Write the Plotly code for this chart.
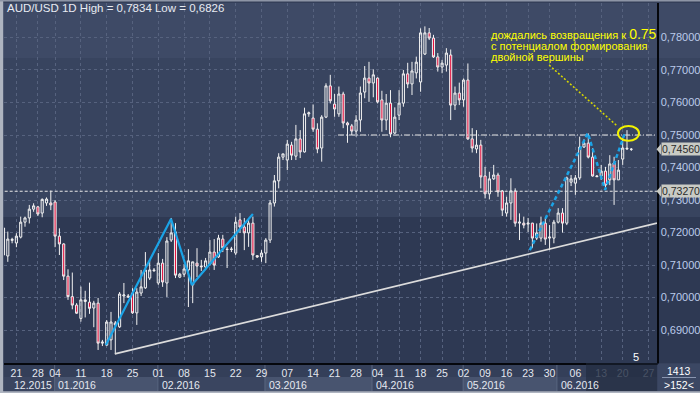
import plotly.graph_objects as go

# ---------------- data ----------------
O = [
0.7131, 0.7128, 0.7176, 0.7168, 0.7186, 0.7232, 0.7245, 0.7272, 0.7279, 0.7260,
0.7291, 0.7291, 0.7294, 0.7189, 0.7165, 0.7066, 0.7003, 0.6977, 0.6936, 0.6988,
0.6986, 0.6968, 0.6983, 0.6860, 0.6854, 0.6870, 0.6922, 0.6910, 0.7005, 0.7005,
0.7014, 0.6953, 0.7014, 0.7030, 0.7060, 0.7085, 0.7045, 0.7106, 0.7045, 0.7177,
0.7202, 0.7063, 0.7072, 0.7085, 0.7039, 0.7106, 0.7097, 0.7094, 0.7103, 0.7140,
0.7125, 0.7180, 0.7149, 0.7148, 0.7137, 0.7239, 0.7217, 0.7199, 0.7229, 0.7129,
0.7125, 0.7137, 0.7177, 0.7291, 0.7359, 0.7432, 0.7423, 0.7469, 0.7435, 0.7488,
0.7448, 0.7565, 0.7552, 0.7518, 0.7460, 0.7555, 0.7651, 0.7595, 0.7565, 0.7626,
0.7537, 0.7528, 0.7512, 0.7546, 0.7632, 0.7675, 0.7660, 0.7675, 0.7608, 0.7546,
0.7598, 0.7506, 0.7561, 0.7598, 0.7688, 0.7657, 0.7691, 0.7663, 0.7749, 0.7814,
0.7798, 0.7740, 0.7709, 0.7715, 0.7746, 0.7592, 0.7629, 0.7608, 0.7669, 0.7488,
0.7457, 0.7469, 0.7374, 0.7319, 0.7365, 0.7377, 0.7328, 0.7260, 0.7291, 0.7328,
0.7229, 0.7229, 0.7226, 0.7229, 0.7183, 0.7183, 0.7229, 0.7183, 0.7183, 0.7232,
0.7260, 0.7229, 0.7355, 0.7352, 0.7368, 0.7463, 0.7475, 0.7432, 0.7374, 0.7374,
0.7389, 0.7362, 0.7414, 0.7362, 0.7426, 0.7457, 0.7456]

H = [
0.7233, 0.7203, 0.7184, 0.7198, 0.7249, 0.7249, 0.7285, 0.7290, 0.7282, 0.7305,
0.7308, 0.7329, 0.7300, 0.7213, 0.7167, 0.7087, 0.7077, 0.6983, 0.7034, 0.7021,
0.7046, 0.6990, 0.6999, 0.6870, 0.6931, 0.6956, 0.6928, 0.7017, 0.7045, 0.7011,
0.7029, 0.7029, 0.7085, 0.7140, 0.7113, 0.7091, 0.7137, 0.7119, 0.7186, 0.7245,
0.7229, 0.7076, 0.7103, 0.7149, 0.7110, 0.7152, 0.7116, 0.7122, 0.7177, 0.7180,
0.7193, 0.7193, 0.7156, 0.7156, 0.7249, 0.7260, 0.7245, 0.7239, 0.7249, 0.7131,
0.7146, 0.7183, 0.7300, 0.7377, 0.7444, 0.7442, 0.7485, 0.7479, 0.7531, 0.7515,
0.7584, 0.7572, 0.7594, 0.7536, 0.7561, 0.7659, 0.7685, 0.7626, 0.7649, 0.7633,
0.7541, 0.7534, 0.7561, 0.7649, 0.7712, 0.7725, 0.7702, 0.7677, 0.7636, 0.7626,
0.7638, 0.7585, 0.7638, 0.7700, 0.7722, 0.7725, 0.7741, 0.7828, 0.7834, 0.7829,
0.7808, 0.7752, 0.7731, 0.7767, 0.7763, 0.7649, 0.7661, 0.7674, 0.7720, 0.7521,
0.7515, 0.7485, 0.7402, 0.7387, 0.7408, 0.7384, 0.7331, 0.7310, 0.7367, 0.7336,
0.7259, 0.7249, 0.7245, 0.7230, 0.7228, 0.7249, 0.7244, 0.7223, 0.7239, 0.7275,
0.7275, 0.7372, 0.7377, 0.7377, 0.7495, 0.7487, 0.7505, 0.7459, 0.7377, 0.7408,
0.7402, 0.7438, 0.7433, 0.7423, 0.7490, 0.7515, 0.7460]

L = [
0.7121, 0.7110, 0.7167, 0.7155, 0.7182, 0.7218, 0.7228, 0.7264, 0.7251, 0.7247,
0.7282, 0.7269, 0.7155, 0.7131, 0.7054, 0.6993, 0.6964, 0.6950, 0.6926, 0.6939,
0.6950, 0.6909, 0.6839, 0.6851, 0.6851, 0.6839, 0.6826, 0.6907, 0.6983, 0.6999,
0.6950, 0.6916, 0.7005, 0.7027, 0.7054, 0.7079, 0.7039, 0.7033, 0.7002, 0.7171,
0.7060, 0.7060, 0.7063, 0.6971, 0.6983, 0.7063, 0.7082, 0.7085, 0.7100, 0.7085,
0.7122, 0.7140, 0.7091, 0.7140, 0.7131, 0.7199, 0.7146, 0.7156, 0.7116, 0.7122,
0.7110, 0.7106, 0.7168, 0.7280, 0.7336, 0.7423, 0.7392, 0.7423, 0.7423, 0.7429,
0.7446, 0.7556, 0.7510, 0.7444, 0.7418, 0.7552, 0.7597, 0.7556, 0.7556, 0.7521,
0.7476, 0.7500, 0.7495, 0.7510, 0.7613, 0.7602, 0.7616, 0.7597, 0.7510, 0.7515,
0.7493, 0.7503, 0.7546, 0.7587, 0.7644, 0.7623, 0.7674, 0.7633, 0.7746, 0.7792,
0.7737, 0.7695, 0.7690, 0.7695, 0.7546, 0.7577, 0.7592, 0.7587, 0.7485, 0.7446,
0.7444, 0.7336, 0.7305, 0.7302, 0.7362, 0.7310, 0.7251, 0.7249, 0.7239, 0.7218,
0.7177, 0.7213, 0.7202, 0.7152, 0.7177, 0.7172, 0.7162, 0.7146, 0.7167, 0.7228,
0.7200, 0.7223, 0.7343, 0.7316, 0.7362, 0.7460, 0.7428, 0.7372, 0.7371, 0.7362,
0.7336, 0.7346, 0.7285, 0.7362, 0.7408, 0.7454, 0.7451]

C = [
0.7214, 0.7180, 0.7179, 0.7189, 0.7232, 0.7245, 0.7272, 0.7282, 0.7257, 0.7302,
0.7303, 0.7285, 0.7189, 0.7165, 0.7066, 0.7003, 0.6977, 0.6952, 0.6993, 0.6993,
0.6967, 0.6983, 0.6860, 0.6863, 0.6925, 0.6925, 0.6916, 0.7011, 0.7008, 0.7002,
0.6953, 0.7017, 0.7033, 0.7085, 0.7085, 0.7083, 0.7106, 0.7048, 0.7174, 0.7199,
0.7069, 0.7072, 0.7088, 0.7113, 0.7110, 0.7097, 0.7095, 0.7113, 0.7140, 0.7100,
0.7183, 0.7153, 0.7148, 0.7149, 0.7232, 0.7217, 0.7199, 0.7229, 0.7131, 0.7125,
0.7137, 0.7177, 0.7291, 0.7359, 0.7432, 0.7442, 0.7472, 0.7438, 0.7488, 0.7448,
0.7565, 0.7568, 0.7518, 0.7457, 0.7555, 0.7651, 0.7605, 0.7580, 0.7626, 0.7537,
0.7531, 0.7512, 0.7546, 0.7629, 0.7675, 0.7660, 0.7685, 0.7602, 0.7546, 0.7598,
0.7503, 0.7555, 0.7598, 0.7688, 0.7657, 0.7697, 0.7724, 0.7814, 0.7814, 0.7798,
0.7740, 0.7709, 0.7721, 0.7752, 0.7592, 0.7629, 0.7608, 0.7669, 0.7488, 0.7460,
0.7469, 0.7371, 0.7319, 0.7365, 0.7377, 0.7325, 0.7269, 0.7291, 0.7328, 0.7229,
0.7232, 0.7223, 0.7229, 0.7183, 0.7199, 0.7229, 0.7180, 0.7186, 0.7232, 0.7260,
0.7229, 0.7368, 0.7365, 0.7368, 0.7463, 0.7475, 0.7432, 0.7374, 0.7372, 0.7389,
0.7346, 0.7411, 0.7362, 0.7392, 0.7460, 0.7459, 0.7456]

BARS = list(range(len(O)))

# x-axis ticks (bar index of each weekly label) and labels
TICK_POS = [3, 8, 12, 18, 24, 30, 36, 42, 48, 54, 60, 66, 72, 77, 82, 87, 92,
            97, 102, 107, 112, 117, 122, 127, 133, 139, 144, 150]
TICK_DAYS = ["21", "28", "04", "11", "18", "25", "01", "08", "15", "22", "29",
             "07", "14", "21", "28", "04", "11", "18", "25", "02", "09", "16",
             "23", "30", "06", "13", "20", "27"]
FUTURE_FROM = 25  # labels from this index are greyed out

MONTH_LABELS = ["12.2015", "01.2016", "02.2016", "03.2016", "04.2016", "05.2016", "06.2016"]
MONTH_START = [-1.0, 11.9, 35.9, 60.8, 85.7, 106.9, 128.7]

Y_TICKS = [0.69, 0.70, 0.71, 0.72, 0.73, 0.74, 0.75, 0.76, 0.77, 0.78]
Y_LABELS = ["0,69000", "0,70000", "0,71000", "0,72000", "0,73000",
            "0,74000", "0,75000", "0,76000", "0,77000", "0,78000"]

# drawn lines (bar index, price)
SUPPORT_X = [25.9, 151.98]
SUPPORT_Y = [0.6827, 0.7229]
BLUE_X = [23.8, 38.95, 43.8, 58.0]
BLUE_Y = [0.6854, 0.7242, 0.7039, 0.7257]
BLUE_DASH_X = [122.4, 135.9, 139.9, 144.5]
BLUE_DASH_Y = [0.7146, 0.7506, 0.7331, 0.7506]
LEVEL_075 = 0.7500
LEVEL_075_START = 77.8
LEVEL_07327 = 0.7327
LAST_PRICE = 0.7456
POINTER_X = [126.9, 142.7]
POINTER_Y = [0.7715, 0.7528]
ELLIPSE_X = [142.9, 147.8]
ELLIPSE_Y = [0.7482, 0.7528]

X_RANGE = [0.116, 151.98]
Y_RANGE = [0.67989, 0.79059]

# ---------------- layout helpers (pixel -> paper) ----------------
W, HGT = 700, 393
ML, MR, MT, MB = 4, 43, 3, 30
PW, PH = W - ML - MR, HGT - MT - MB


def px(x):
    return (x - ML) / PW


def py(y):
    return (HGT - MB - y) / PH


FONT = "Liberation Sans, Arial, sans-serif"

fig = go.Figure()

fig.add_trace(go.Candlestick(
    x=BARS, open=O, high=H, low=L, close=C,
    increasing=dict(line=dict(color="#f2f2f2", width=1), fillcolor="rgba(0,0,0,0)"),
    decreasing=dict(line=dict(color="#f2f2f2", width=1), fillcolor="#e3123f"),
    whiskerwidth=0, hoverinfo="skip", showlegend=False))

# horizontal levels
fig.add_trace(go.Scatter(x=[LEVEL_075_START, X_RANGE[1]], y=[LEVEL_075, LEVEL_075],
                         mode="lines", line=dict(color="#e6e6e6", width=1, dash="6px,2px,1px,2px"),
                         hoverinfo="skip", showlegend=False))
fig.add_trace(go.Scatter(x=[X_RANGE[0] - 1, X_RANGE[1]], y=[LEVEL_07327, LEVEL_07327],
                         mode="lines", line=dict(color="#e6e6e6", width=1, dash="3px,2px"),
                         hoverinfo="skip", showlegend=False))
# support line
fig.add_trace(go.Scatter(x=SUPPORT_X, y=SUPPORT_Y, mode="lines",
                         line=dict(color="#dcdcdc", width=1.6),
                         hoverinfo="skip", showlegend=False))
# blue zigzags
fig.add_trace(go.Scatter(x=BLUE_X, y=BLUE_Y, mode="lines",
                         line=dict(color="#1ba3e6", width=2.2),
                         hoverinfo="skip", showlegend=False))
fig.add_trace(go.Scatter(x=BLUE_DASH_X, y=BLUE_DASH_Y, mode="lines",
                         line=dict(color="#1ba3e6", width=2.5, dash="4px,3px"),
                         hoverinfo="skip", showlegend=False))
# yellow pointer
fig.add_trace(go.Scatter(x=POINTER_X, y=POINTER_Y, mode="lines",
                         line=dict(color="#d8d800", width=1.5, dash="2px,2px"),
                         hoverinfo="skip", showlegend=False))

shapes = []
# background bands (plot + right panel)
bands = [(3, 58, "#3e4a66"), (58, 217, "#38445f"), (217, 363, "#2e3953")]
for y0, y1, col in bands:
    shapes.append(dict(type="rect", xref="paper", yref="paper", x0=px(0), x1=px(700),
                       y0=py(y1), y1=py(y0), fillcolor=col, line=dict(width=0), layer="below"))
# bottom strip: month boxes
for k in range(len(MONTH_START)):
    x0 = MONTH_START[k]
    x1 = MONTH_START[k + 1] if k + 1 < len(MONTH_START) else X_RANGE[1] + 5
    col = "#48546f" if k % 2 == 1 else "#3a4560"
    shapes.append(dict(type="rect", xref="x", yref="paper", x0=x0, x1=x1,
                       y0=py(391), y1=py(377), fillcolor=col, line=dict(width=0), layer="below"))
    shapes.append(dict(type="line", xref="x", yref="paper", x0=x0, x1=x0,
                       y0=py(391), y1=py(363), line=dict(color="#5a6681", width=1), layer="below"))
# future (greyed) part of the date strip
shapes.append(dict(type="rect", xref="paper", yref="paper", x0=px(586), x1=px(657),
                   y0=py(391), y1=py(363), fillcolor="rgba(30,38,56,0.55)", line=dict(width=0), layer="above"))
# bottom-right info box
shapes.append(dict(type="rect", xref="paper", yref="paper", x0=px(657.5), x1=px(700),
                   y0=py(391), y1=py(363.5), fillcolor="#3b4763", line=dict(width=0), layer="above"))
shapes.append(dict(type="line", xref="paper", yref="paper", x0=px(662), x1=px(696),
                   y0=py(377.5), y1=py(377.5), line=dict(color="#8a96b0", width=1), layer="above"))
# outer frame
shapes.append(dict(type="rect", xref="paper", yref="paper", x0=px(0), x1=px(3.2),
                   y0=py(393), y1=py(0), fillcolor="#aeb4c0", line=dict(width=0), layer="above"))
shapes.append(dict(type="rect", xref="paper", yref="paper", x0=px(0), x1=px(700),
                   y0=py(393), y1=py(391.2), fillcolor="#aeb4c0", line=dict(width=0), layer="above"))
shapes.append(dict(type="rect", xref="paper", yref="paper", x0=px(0), x1=px(700),
                   y0=py(1.5), y1=py(0), fillcolor="#8d95a6", line=dict(width=0), layer="above"))
# yellow ellipse
shapes.append(dict(type="circle", xref="x", yref="y", x0=ELLIPSE_X[0], x1=ELLIPSE_X[1],
                   y0=ELLIPSE_Y[0], y1=ELLIPSE_Y[1], line=dict(color="#f2f200", width=2)))
# price tag arrows
for lvl in (LAST_PRICE, LEVEL_07327):
    shapes.append(dict(type="path", xref="paper", yref="y",
                       path=f"M {px(656.5)},{lvl} L {px(661)},{lvl + 0.0016} L {px(661)},{lvl - 0.0016} Z",
                       fillcolor="#c9cbc5", line=dict(width=0), layer="above"))

annotations = []
annotations.append(dict(xref="paper", yref="paper", x=px(5), y=py(8), xanchor="left", yanchor="middle",
                        text="AUD/USD 1D High = 0,7834 Low = 0,6826", showarrow=False,
                        font=dict(family=FONT, size=11.5, color="#e8ebf2")))
yellow = dict(family=FONT, size=11, color="#ffff00")
annotations.append(dict(xref="paper", yref="paper", x=px(489), y=py(34), xanchor="left", yanchor="middle",
                        text="дождались возвращения к <span style='font-size:14px'>0.75</span>",
                        showarrow=False, font=yellow))
annotations.append(dict(xref="paper", yref="paper", x=px(489), y=py(46), xanchor="left", yanchor="middle",
                        text="с потенциалом формирования", showarrow=False, font=yellow))
annotations.append(dict(xref="paper", yref="paper", x=px(489), y=py(57), xanchor="left", yanchor="middle",
                        text="двойной вершины", showarrow=False, font=yellow))
# price tags
for lvl, txt in ((LAST_PRICE, "0,74560"), (LEVEL_07327, "0,73270")):
    annotations.append(dict(xref="paper", yref="y", x=px(660.5), y=lvl, xanchor="left", yanchor="middle",
                            text=txt, showarrow=False, bgcolor="#c9cbc5", borderpad=0,
                            font=dict(family=FONT, size=10.5, color="#2a2a2a")))
# month labels
for lab, start in zip(MONTH_LABELS, MONTH_START):
    annotations.append(dict(xref="x", yref="paper", x=max(start, 1.6) + 0.4, y=py(384.5),
                            xanchor="left", yanchor="middle", text=lab, showarrow=False,
                            font=dict(family=FONT, size=10.5, color="#e4e8f0")))
annotations.append(dict(xref="paper", yref="paper", x=px(636), y=py(357), text="5", showarrow=False,
                        xanchor="center", yanchor="middle", font=dict(family=FONT, size=11, color="#ffffff")))
annotations.append(dict(xref="paper", yref="paper", x=px(679), y=py(371), text="1413", showarrow=False,
                        xanchor="center", yanchor="middle", font=dict(family=FONT, size=10.5, color="#ffffff")))
annotations.append(dict(xref="paper", yref="paper", x=px(679), y=py(384.5), text="&gt;152&lt;", showarrow=False,
                        xanchor="center", yanchor="middle", font=dict(family=FONT, size=10.5, color="#ffffff")))

tick_text = [t if k < FUTURE_FROM else f"<span style='color:#7d879c'>{t}</span>"
             for k, t in enumerate(TICK_DAYS)]

fig.update_layout(
    width=W, height=HGT, autosize=False,
    margin=dict(l=ML, r=MR, t=MT, b=MB, autoexpand=False),
    paper_bgcolor="#343f59", plot_bgcolor="rgba(0,0,0,0)",
    font=dict(family=FONT, size=11, color="#e4e8f0"),
    shapes=shapes, annotations=annotations, showlegend=False,
    xaxis=dict(range=X_RANGE, rangeslider=dict(visible=False), tickmode="array",
               tickvals=TICK_POS, ticktext=tick_text, showgrid=True, gridcolor="#56627e",
               griddash="3px,3px", gridwidth=1, zeroline=False, showline=True,
               linecolor="#05070c", linewidth=1.5, ticks="", ticklabelstandoff=0,
               tickfont=dict(size=10.5, color="#e4e8f0")),
    yaxis=dict(range=Y_RANGE, side="right", tickmode="array", tickvals=Y_TICKS, ticktext=Y_LABELS,
               showgrid=True, gridcolor="#56627e", griddash="3px,3px", gridwidth=1, zeroline=False,
               showline=True, linecolor="#05070c", linewidth=1.5, ticks="",
               tickfont=dict(size=11, color="#bccbeb")),
)

fig.write_html("out.html", config={"displayModeBar": False, "staticPlot": True})
with open("out.html", encoding="utf-8") as f:
    html = f.read()
html = html.replace("<head>", "<head><style>html,body{margin:0;padding:0;overflow:hidden;background:#343f59}</style>", 1)
with open("out.html", "w", encoding="utf-8") as f:
    f.write(html)
